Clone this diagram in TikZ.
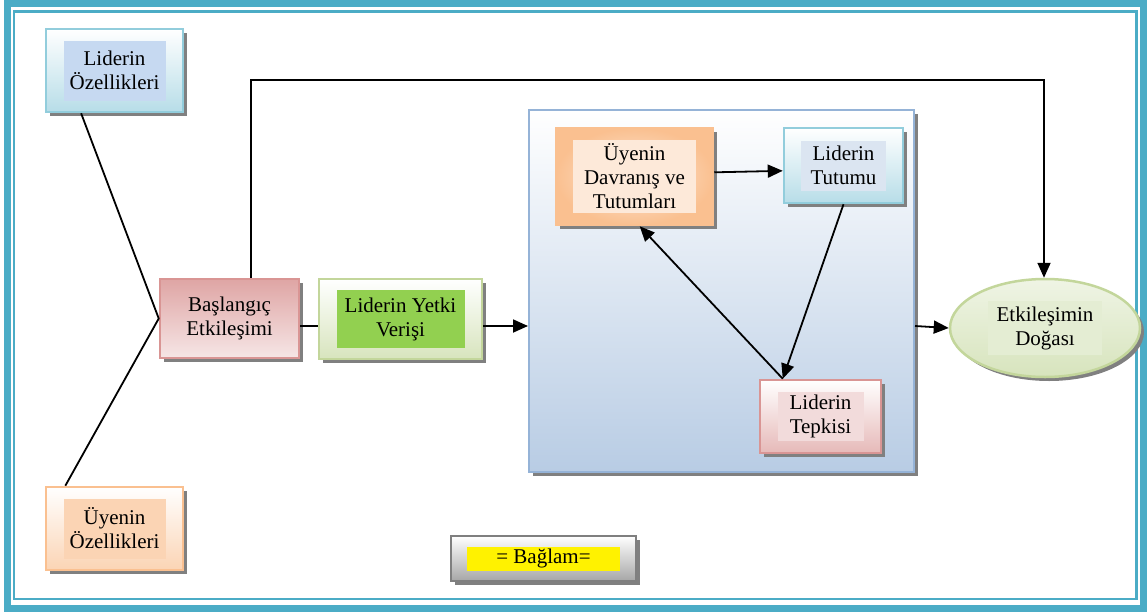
\documentclass[tikz,border=0pt]{standalone}
\usepackage{fontspec}
\setmainfont{Liberation Serif}
\usetikzlibrary{arrows.meta,shapes.geometric,shadows}

\definecolor{framec}{HTML}{4BACC6}
\definecolor{blueB}{HTML}{92CDDC}
\definecolor{blueF}{HTML}{B7DDE8}
\definecolor{blueI}{HTML}{C6D9F1}
\definecolor{blueIl}{HTML}{DBE5F1}
\definecolor{orangeB}{HTML}{FAC090}
\definecolor{orangeF}{HTML}{FBD4B4}
\definecolor{orangeI}{HTML}{FDE9D9}
\definecolor{pinkB}{HTML}{D99594}
\definecolor{pinkF}{HTML}{E6B9B8}
\definecolor{pinkI}{HTML}{F2DBDB}
\definecolor{greenB}{HTML}{C3D69B}
\definecolor{greenF}{HTML}{D7E4BD}
\definecolor{greenI}{HTML}{92D050}
\definecolor{greenIl}{HTML}{E4EDD3}
\definecolor{contB}{HTML}{95B3D7}
\definecolor{contF}{HTML}{B8CCE4}
\definecolor{grayB}{HTML}{7F7F7F}
\definecolor{grayF}{HTML}{A6A6A6}

\tikzset{
  box/.style={draw, line width=2.5pt, drop shadow={shadow xshift=4pt,shadow yshift=-4pt,fill=black!50,opacity=1}},
  txt/.style={inner sep=0pt, align=center, font=\fontsize{21}{24}\selectfont},
  conn/.style={line width=1.8pt},
  arr/.style={line width=1.8pt, -{Triangle[length=15pt,width=13pt]}}
}

\begin{document}
\begin{tikzpicture}[x=1pt,y=-1pt]
\useasboundingbox (0,0) rectangle (1147,613);
% frame
\draw[framec, line width=7pt] (7.5,3.5) rectangle (1143.5,608.5);
\draw[framec, line width=2.5pt] (14,11.5) rectangle (1136.5,599);

% big box
\node[box, draw=contB, line width=2pt, top color=white, bottom color=contF, minimum width=385, minimum height=362] (cont) at (721.5,291) {};

\node[box, draw=blueB, top color=white, bottom color=blueF, minimum width=137, minimum height=83] (lozel) at (114.5,70.5) {};
\node[txt, fill=blueI, minimum width=102, minimum height=60] (lozel-t) at (lozel) {Liderin\\Özellikleri};

\node[box, draw=orangeB, top color=white, bottom color=orangeF, minimum width=137, minimum height=83] (uozel) at (114.5,528.5) {};
\node[txt, fill=orangeF, minimum width=102, minimum height=60] (uozel-t) at (uozel) {Üyenin\\Özellikleri};

\node[box, draw=pinkB, top color=pinkB!85, bottom color=pinkI!70, minimum width=139, minimum height=79] (basla) at (229.5,318.5) {};
\node[txt] (basla-t) at (basla) {Başlangıç\\Etkileşimi};

\node[box, draw=greenB, top color=white, bottom color=greenF, minimum width=163, minimum height=80] (yetki) at (400.5,319) {};
\node[txt, fill=greenI, minimum width=128, minimum height=58] (yetki-t) at (yetki) {Liderin Yetki\\Verişi};

\node[box, draw=orangeB, inner color=orangeI, outer color=orangeB, minimum width=157, minimum height=97] (dav) at (634.5,176.5) {};
\node[txt, fill=orangeI, minimum width=123, minimum height=73] (dav-t) at (dav) {Üyenin\\Davranış ve\\Tutumları};

\node[box, draw=blueB, top color=white, bottom color=blueF, minimum width=119, minimum height=75] (tutumu) at (843.5,165.5) {};
\node[txt, fill=blueIl, minimum width=85, minimum height=50] (tutumu-t) at (tutumu) {Liderin\\Tutumu};

\node[box, draw=pinkB, top color=white, bottom color=pinkF, minimum width=121, minimum height=73] (tepki) at (820.5,416.5) {};
\node[txt, fill=pinkI, minimum width=86, minimum height=49] (tepki-t) at (tepki) {Liderin\\Tepkisi};

\node[box, ellipse, draw=greenB, top color=greenF!40, bottom color=greenF, minimum width=190, minimum height=98] (dogasi) at (1045,328) {};
\node[txt, fill=greenIl, minimum width=114, minimum height=54] (dogasi-t) at (dogasi) {Etkileşimin\\Doğası};

\node[box, draw=grayB, top color=white, bottom color=grayF, minimum width=185, minimum height=45] (baglam) at (543.5,558.5) {};
\node[txt, fill=yellow, minimum width=153, minimum height=24] (baglam-t) at (baglam) {= Bağlam=};

% connectors
\coordinate (mid) at (0,326);
\coordinate (c1) at (251,80);
\coordinate (c2) at (1044,80);
\draw[conn] (lozel.232) -- (basla.west) -- (uozel.139);
\draw[conn] (basla.east |- mid) -- (yetki.west |- mid);
\draw[arr] (yetki.east |- mid) -- (cont.west |- mid);
\draw[arr] (cont.east |- mid) -- (dogasi.west);
\draw[arr] (c1 |- basla.north) -- (c1) -- (c2) -- (c2 |- dogasi.north);
\draw[arr] (dav.3) -- (tutumu.185);
\draw[arr] (tutumu.south) -- (tepki.135);
\draw[arr] (tepki.135) -- (dav.276);
\end{tikzpicture}
\end{document}
